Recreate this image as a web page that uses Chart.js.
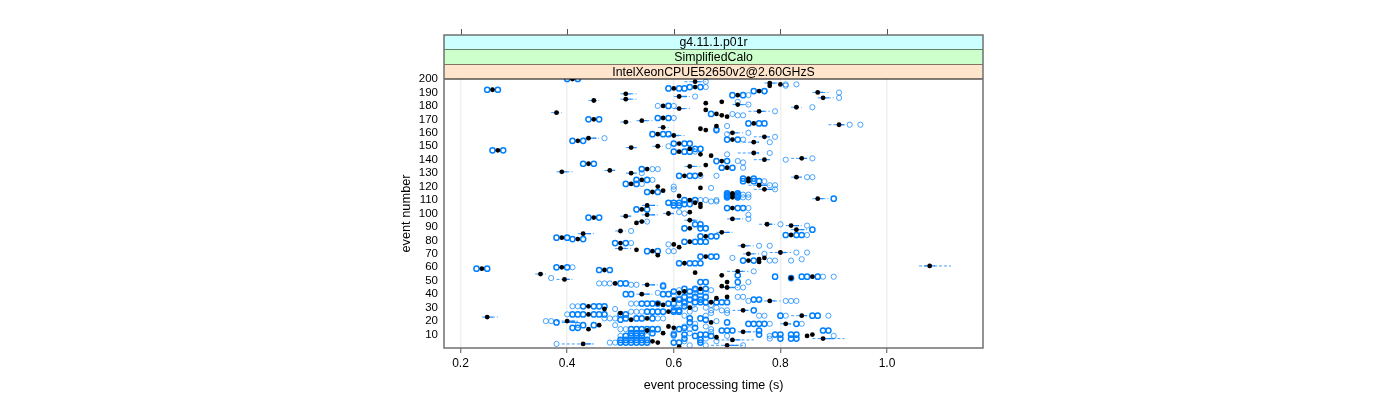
<!DOCTYPE html>
<html>
<head>
<meta charset="utf-8">
<style>
  html, body { margin: 0; padding: 0; background: #fff; }
  #wrap { width: 1400px; height: 400px; position: relative; }
</style>
<script src="https://cdn.jsdelivr.net/npm/chart.js@4"></script>
</head>
<body>
<div id="wrap"><canvas id="chart"></canvas></div>
<script>
const xTicks = [0.2, 0.4, 0.6, 0.8, 1.0];
const yTicks = [10, 20, 30, 40, 50, 60, 70, 80, 90, 100, 110, 120, 130, 140, 150, 160, 170, 180, 190, 200];
const stripLabels = ['g4.11.1.p01r', 'SimplifiedCalo', 'IntelXeonCPUE52650v2@2.60GHzS'];

// [event, median time]
const medians = [
  [200,.41],[198,.64],[197,.78],[196,.80],[195,.78],[194,.64],[193,.60],[192,.26],[191,.76],[190,.87],
  [189,.51],[188,.72],[187,.61],[186,.88],[185,.51],[184,.45],[183,.69],[182,.66],[181,.72],[180,.58],
  [179,.83],[178,.61],[177,.66],[176,.76],[175,.38],[174,.68],[173,.69],[172,.70],[171,.58],[170,.45],
  [169,.54],[168,.51],[167,.75],[166,.91],[164,.58],[163,.65],[162,.66],[165,.68],[160,.71],[159,.57],
  [158,.60],[157,.77],[156,.44],[155,.71],[154,.42],[153,.75],[152,.61],[150,.57],[149,.52],[148,.63],
  [147,.27],[146,.61],[145,.75],[144,.65],[143,.67],[141,.84],[140,.77],[139,.69],[137,.44],[136,.66],
  [135,.63],[134,.70],[133,.55],[132,.48],[131,.39],[130,.52],[128,.62],[129,.65],[127,.83],[125,.54],
  [126,.74],[124,.74],[122,.52],[121,.76],[120,.57],[119,.65],[118,.77],[117,.58],[116,.56],[115,.71],
  [114,.71],[113,.61],[112,.71],[111,.87],[110,.63],[108,.64],[107,.65],[106,.55],[105,.65],[104,.71],
  [103,.54],[101,.63],[100,.59],[99,.55],[98,.51],[97,.45],[96,.71],[95,.63],[94,.54],[93,.53],
  [92,.775],[91,.82],[89,.63],[88,.83],[87,.50],[86,.69],[85,.43],[84,.82],[83,.66],[82,.39],
  [81,.42],[79,.63],[78,.50],[77,.60],[76,.73],[75,.61],[74,.50],[73,.53],[72,.56],[71,.80],
  [70,.74],[69,.57],[68,.66],[65,.74],[66,.76],[67,.77],[64,.76],[63,.62],[61,1.08],[60,.39],
  [59,.24],[58,.47],[57,.72],[56,.64],[55,.35],[54,.69],[53,.86],[52,.82],[51,.395],[49,.70],
  [48,.49],[47,.55],[46,.69],[45,.70],[44,.65],[42,.62],[41,.61],[40,.54],[38,.70],[37,.68],
  [35,.78],[36,.60],[34,.67],[33,.57],[32,.58],[31,.44],[30,.63],[29,.47],[28,.73],[27,.59],
  [26,.50],[25,.44],[24,.84],[23,.25],[21,.52],[22,.55],[20,.40],[19,.67],[18,.81],[17,.46],
  [16,.59],[15,.60],[14,.44],[13,.55],[12,.73],[11,.58],[10,.86],[9,.85],[8,.68],[7,.88],
  [6,.71],[5,.56],[4,.57],[3,.43],[2,.70],[1,.61]
];

// [event, whisker low, whisker high]
const whiskers = [
  [198,.62,.66],[197,.77,.80],[190,.86,.89],[189,.50,.53],[187,.60,.63],[186,.87,.90],[185,.50,.53],[184,.44,.46],
  [181,.71,.74],[179,.82,.84],[178,.60,.63],[176,.74,.78],[175,.37,.39],[169,.53,.56],[168,.50,.52],[166,.89,.92],
  [164,.57,.59],[160,.70,.73],[158,.59,.62],[157,.75,.78],[156,.43,.46],[153,.73,.76],[150,.56,.58],[149,.51,.53],
  [148,.62,.64],[145,.72,.76],[141,.82,.85],[140,.75,.78],[135,.62,.65],[132,.47,.49],[131,.38,.41],[130,.51,.53],
  [127,.82,.84],[121,.74,.78],[118,.75,.79],[111,.86,.89],[106,.54,.57],[100,.58,.60],[99,.54,.57],[98,.50,.52],
  [96,.70,.73],[95,.62,.65],[94,.53,.55],[92,.76,.79],[91,.81,.84],[88,.82,.85],[87,.49,.51],[86,.68,.71],
  [85,.42,.45],[76,.72,.75],[74,.49,.52],[71,.78,.82],[70,.73,.76],[61,1.06,1.12],[57,.70,.74],[55,.34,.36],
  [51,.38,.41],[47,.54,.57],[45,.69,.72],[40,.53,.56],[35,.76,.80],[30,.62,.64],[28,.71,.74],[24,.82,.85],
  [23,.24,.27],[20,.38,.42],[19,.39,.43],[18,.80,.82],[12,.72,.76],[7,.86,.92],[6,.68,.75],[3,.39,.45],[2,.67,.73]
];

// [event, box low, box high]
const boxes = [
  [198,.635,.65],[197,.775,.79],[190,.865,.88],[189,.505,.52],[187,.605,.625],[186,.875,.89],[185,.505,.52],[184,.445,.455],
  [181,.715,.73],[179,.825,.835],[178,.605,.62],[176,.755,.77],[175,.375,.385],[169,.535,.55],[168,.505,.515],[166,.905,.92],
  [164,.575,.585],[160,.705,.72],[158,.595,.61],[157,.765,.78],[156,.435,.455],[153,.745,.76],[150,.565,.575],[149,.515,.53],
  [148,.625,.64],[145,.745,.76],[141,.835,.85],[140,.765,.78],[135,.625,.64],[132,.475,.49],[131,.385,.40],[130,.515,.53],
  [127,.825,.84],[121,.755,.775],[118,.765,.785],[111,.865,.88],[106,.545,.565],[100,.585,.60],[99,.545,.565],[98,.505,.52],
  [96,.705,.725],[95,.625,.64],[94,.535,.545],[92,.77,.785],[91,.815,.835],[88,.825,.845],[87,.495,.505],[86,.685,.705],
  [85,.425,.445],[76,.725,.74],[74,.495,.51],[71,.795,.81],[70,.735,.75],[61,1.07,1.09],[57,.715,.73],[55,.345,.355],
  [51,.39,.405],[47,.545,.565],[45,.695,.715],[40,.535,.555],[35,.775,.79],[30,.625,.635],[28,.725,.74],[24,.835,.85],
  [23,.245,.26],[20,.395,.415],[19,.395,.42],[18,.805,.82],[12,.725,.745],[7,.875,.90],[6,.705,.725],[3,.425,.445],[2,.695,.72]
];

// [event, time, time, ...] outliers drawn heavy where several events repeat
const strongOutliers = [
  [200,.40,.42],[194,.63,.65],[193,.59,.61,.62],[192,.25,.27],[191,.75,.77],[188,.71,.73],[180,.59],[174,.67],[171,.57,.59],
  [170,.44,.46],[167,.74,.76,.77],[162,.68],[159,.56,.58,.59],[155,.70,.72],[154,.41,.43],[152,.60,.62,.63],[148,.64,.65],
  [147,.26,.28],[146,.60,.62,.63],[139,.68,.70],[137,.43,.45],[134,.69,.71],[133,.54],[128,.61,.63,.64],[125,.53,.55],
  [126,.73,.75],[124,.73,.75,.76],[122,.51,.53],[116,.55,.57],[115,.70,.72],[114,.70,.72],[113,.70,.72],[112,.70,.72],
  [111,.90],[110,.62,.64],[108,.59,.60,.61],[107,.62,.63],[106,.60,.61],[104,.70,.72,.73],[103,.53,.55],[97,.44,.46],
  [92,.64,.65],[89,.62,.65,.66],[88,.86],[84,.81,.83,.84],[83,.65,.67,.68],[82,.38,.40],[81,.41,.43],[79,.62,.64,.65,.66],
  [78,.49,.51],[72,.55,.57],[68,.65,.67,.68],[65,.73,.75],[63,.61,.64,.65,.63],[60,.38,.40],[59,.23,.25],[58,.46,.48],
  [54,.72],[53,.79,.84,.85,.87],[52,.82],[49,.72,.65,.66],[48,.50,.51],[46,.58],[44,.62,.64,.66],[42,.60,.63,.65],
  [40,.51,.52,.58,.59],[38,.62,.64,.66],[36,.61,.63,.65,.75,.76],[34,.62,.64,.65,.66,.68,.69,.70],[33,.54,.55,.56,.57,.59,.60],
  [31,.43,.45,.46,.47,.62],[28,.60,.61,.75],[27,.55,.56,.57,.58,.60,.61],
  [25,.41,.42,.43,.45,.46,.47,.50,.51],[24,.80,.86,.87],[22,.51,.53,.54,.56,.63,.65],[21,.50,.66],[19,.38,.63,.70],
  [18,.74,.75,.76,.77,.83],[17,.43,.45],[15,.41,.42,.62,.64],[14,.52,.53,.54,.55,.56,.57,.61],
  [13,.69,.70,.71,.76,.88,.89],[11,.52,.53,.54,.56],[10,.60,.62,.65,.66,.76,.79,.80,.82,.83],[9,.51,.52,.53,.54,.64,.67],
  [7,.80,.82,.83,.62],[6,.50,.51,.52,.53,.54,.55,.65],[4,.50,.51,.52,.53,.54,.55,.60,.61,.65]
];

const faintOutliers = [
  [198,.66],[196,.81,.83],[195,.81],[194,.66],[191,.77],[190,.91],[188,.74],[187,.64],[186,.91],[183,.72],[181,.74],
  [180,.57,.60],[179,.86],[176,.79],[174,.71],[173,.72,.73],[171,.60],[166,.93,.95],[165,.70],[163,.68],
  [160,.74],[159,.70],[157,.79],[156,.47],[155,.73],[153,.78],[150,.59],[146,.64],[145,.78],[144,.70],[141,.86],[140,.81],
  [139,.72],[138,.73],[134,.73],[133,.56,.57],[130,.54],[128,.65,.68],[127,.85,.86],[125,.56],[124,.77],[122,.54],[121,.78,.79],
  [120,.60],[119,.67],[118,.60,.79],[114,.73,.74],[112,.73,.74],[110,.65,.66,.68],[109,.67,.68],[104,.74],[101,.61],[100,.62],
  [99,.74],[96,.74],[94,.55],[92,.80],[91,.85],[89,.66],[87,.52],[84,.85],[78,.52],[77,.59],[76,.76,.78],[72,.59,.60],[71,.83,.85],
  [70,.77],[67,.71],[66,.84],[65,.78,.79,.82],[60,.41],[57,.75],[52,.37],[53,.88,.90],[49,.74],[48,.46,.47,.48],[47,.52,.53,.58],
  [45,.72,.73],[43,.61,.64,.67],[41,.57,.62,.64,.66],[39,.60,.63,.65],[38,.72,.73],[37,.61,.64],[35,.74,.81,.82,.83],[33,.52,.53,.61,.62],[32,.63,.67],[31,.41,.42],
  [30,.60,.66,.68],[29,.49,.64],[28,.67,.69,.70],[27,.52,.53,.54,.63],[26,.67,.70],
  [25,.40],[24,.76,.77,.81,.89,.62,.66],[22,.47,.48,.49,.57,.58],[20,.36,.37,.68],[18,.78,.84,.64],[17,.42,.49],[16,.62,.66],[14,.50,.51,.63,.67],[12,.67],[11,.60,.63],
  [9,.50,.55,.78,.90,.60,.70],[7,.78,.66],[5,.62,.68],[4,.48,.49],[3,.38],[2,.73,.63,.66]
];

const toPoints = rows => rows.flatMap(r => r.slice(1).map(t => ({ x: t, y: r[0] })));
const toSegments = rows => rows.flatMap(r => [{ x: r[1], y: r[0] }, { x: r[2], y: r[0] }, { x: null, y: null }]);

// lattice style strips and top ticks, drawn outside the panel
const latticeFrame = {
  id: 'latticeFrame',
  afterDraw(chart) {
    const { ctx, chartArea: a, scales } = chart;
    const stripColors = ['#ccffff', '#ccffcc', '#ffe5cc'];
    const stripTops = [35, 49.5, 64.5, 79];
    ctx.save();
    ctx.font = '12.3px "Liberation Sans"';
    ctx.textAlign = 'center';
    ctx.textBaseline = 'middle';
    stripLabels.forEach((label, i) => {
      const top = stripTops[i], h = stripTops[i + 1] - top;
      ctx.fillStyle = stripColors[i];
      ctx.fillRect(a.left, top, a.width, h);
      ctx.fillStyle = '#000';
      ctx.fillRect(a.left, stripTops[i + 1] - 0.5, a.width, 1);
      ctx.fillText(label, (a.left + a.right) / 2, top + h / 2 + 0.5);
    });
    ctx.strokeStyle = '#555';
    ctx.lineWidth = 1;
    xTicks.forEach(t => {
      const x = Math.round(scales.x.getPixelForValue(t)) + 0.5;
      ctx.beginPath();
      ctx.moveTo(x, 29);
      ctx.lineTo(x, 35);
      ctx.stroke();
    });
    ctx.strokeStyle = '#707070';
    ctx.lineWidth = 1.5;
    ctx.strokeRect(a.left, 35, a.width, a.bottom - 35);
    ctx.restore();
  }
};

new Chart(document.getElementById('chart'), {
  type: 'scatter',
  data: {
    datasets: [
      { data: toSegments(whiskers), showLine: true, spanGaps: false, pointRadius: 0, borderColor: 'rgba(0,128,255,0.75)', borderWidth: 1, borderDash: [3, 2], order: 5 },
      { data: toSegments(boxes), showLine: true, spanGaps: false, pointRadius: 0, borderColor: 'rgba(0,128,255,0.85)', borderWidth: 1.3, order: 4 },
      { data: toPoints(faintOutliers), pointRadius: 2.6, pointBorderWidth: 1, pointBorderColor: 'rgba(0,128,255,0.7)', pointBackgroundColor: 'transparent', order: 3 },
      { data: toPoints(strongOutliers), pointRadius: 2.6, pointBorderWidth: 1.5, pointBorderColor: '#0080ff', pointBackgroundColor: 'transparent', order: 2 },
      { data: medians.map(m => ({ x: m[1], y: m[0] })), pointRadius: 2.4, pointBorderWidth: 0, pointBackgroundColor: '#000', order: 1 }
    ]
  },
  options: {
    responsive: true,
    maintainAspectRatio: false,
    animation: false,
    devicePixelRatio: 1,
    layout: { padding: { left: 398.5, right: 417, top: 79, bottom: 7 } },
    plugins: { legend: { display: false }, tooltip: { enabled: false } },
    scales: {
      x: {
        type: 'linear',
        min: 0.169,
        max: 1.18,
        afterBuildTicks: axis => { axis.ticks = xTicks.map(v => ({ value: v })); },
        afterFit: axis => { axis.height = 45; },
        border: { display: false },
        grid: { color: '#efefef', lineWidth: 1.5, tickColor: '#555', tickLength: 5, tickWidth: 1 },
        ticks: { color: '#000', font: { family: 'Liberation Sans', size: 12 }, maxRotation: 0, padding: 3, callback: v => v.toFixed(1) },
        title: { display: true, text: 'event processing time (s)', color: '#000', font: { family: 'Liberation Sans', size: 12.5 }, padding: { top: 5, bottom: 0 } }
      },
      y: {
        type: 'linear',
        min: 0,
        max: 200,
        afterBuildTicks: axis => { axis.ticks = yTicks.map(v => ({ value: v })); },
        afterFit: axis => { axis.width = 45.5; },
        border: { display: false },
        grid: { display: false, drawTicks: false },
        ticks: { color: '#000', font: { family: 'Liberation Sans', size: 11.5 }, padding: 6, autoSkip: false },
        title: { display: true, text: 'event number', color: '#000', font: { family: 'Liberation Sans', size: 12.8 }, padding: { top: 0, bottom: 0 } }
      }
    }
  },
  plugins: [latticeFrame]
});
</script>
</body>
</html>
